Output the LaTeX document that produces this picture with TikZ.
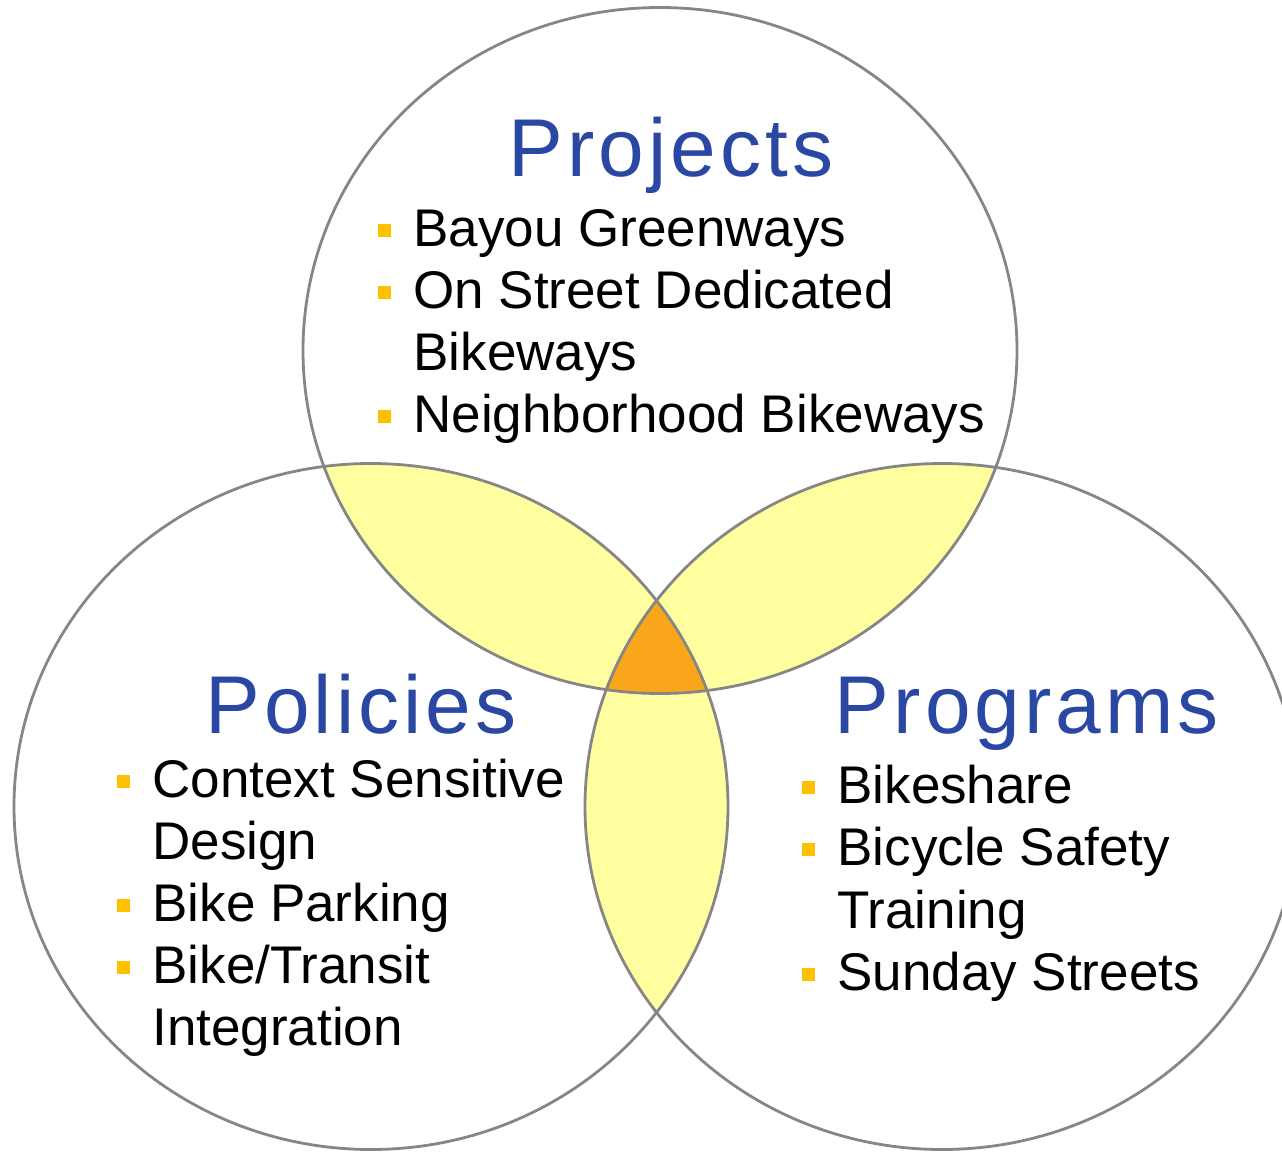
\documentclass[tikz,border=0pt]{standalone}
\usepackage{fontspec}
\setmainfont{Liberation Sans}
\newfontfamily\titlefont[LetterSpace=5]{Liberation Sans}
\usepackage{tikz}
\usetikzlibrary{positioning}
\definecolor{ringgray}{HTML}{868686}
\definecolor{lensyellow}{HTML}{FFFF9F}
\definecolor{coreorange}{HTML}{F9A61A}
\definecolor{titleblue}{HTML}{2A47A3}
\definecolor{bulletgold}{HTML}{FFC000}

\begin{document}
\begin{tikzpicture}[x=0.5pt, y=-0.5pt,
  ring/.style={draw=ringgray, line width=1.4pt},
  heading/.style={font=\titlefont\fontsize{41pt}{41pt}\selectfont, text=titleblue, inner sep=0pt, anchor=base},
  item/.style={font=\fontsize{26.5pt}{31pt}\selectfont, inner sep=0pt, anchor=base west},
  bullet/.style={fill=bulletgold, minimum size=6.5pt, inner sep=0pt}]
\useasboundingbox (0,0) rectangle (1282,1152);
\clip (0,0) rectangle (1282,1152);
\coordinate (proj) at (660,350.5);
\coordinate (poli) at (371,806.5);
\coordinate (prog) at (942,806.5);
% overlaps
\begin{scope}
\clip (proj) ellipse [x radius=357, y radius=343];
\fill[lensyellow] (poli) ellipse [x radius=357, y radius=343];
\fill[lensyellow] (prog) ellipse [x radius=357, y radius=343];
\end{scope}
\begin{scope}
\clip (poli) ellipse [x radius=357, y radius=343];
\fill[lensyellow] (prog) ellipse [x radius=357, y radius=343];
\end{scope}
\begin{scope}
\clip (proj) ellipse [x radius=357, y radius=343];
\clip (poli) ellipse [x radius=357, y radius=343];
\fill[coreorange] (prog) ellipse [x radius=357, y radius=343];
\end{scope}
\draw[ring] (proj) ellipse [x radius=357, y radius=343];
\draw[ring] (poli) ellipse [x radius=357, y radius=343];
\draw[ring] (prog) ellipse [x radius=357, y radius=343];
% headings
\node[heading] (projT) at (671,176) {Projects};
\node[heading] (poliT) at (361,733) {Policies};
\node[heading] (progT) at (1027,733) {Programs};
% projects
\node[item] (bayou) at (413,246) {Bayou Greenways};
\node[item] (street) at ([yshift=-31pt]bayou.base west) {On Street Dedicated};
\node[item] (street2) at ([yshift=-31pt]street.base west) {Bikeways};
\node[item] (neigh) at ([yshift=-31pt]street2.base west) {Neighborhood Bikeways};
\node[bullet] (bu1) at ([xshift=-14.5pt,yshift=8pt]bayou.base west) {};
\node[bullet] (bu2) at ([xshift=-14.5pt,yshift=8pt]street.base west) {};
\node[bullet] (bu3) at ([xshift=-14.5pt,yshift=8pt]neigh.base west) {};
% policies
\node[item] (context) at (152,797) {Context Sensitive};
\node[item] (context2) at ([yshift=-31pt]context.base west) {Design};
\node[item] (parking) at ([yshift=-31pt]context2.base west) {Bike Parking};
\node[item] (transit) at ([yshift=-31pt]parking.base west) {Bike/Transit};
\node[item] (transit2) at ([yshift=-31pt]transit.base west) {Integration};
\node[bullet] (bu4) at ([xshift=-14.5pt,yshift=8pt]context.base west) {};
\node[bullet] (bu5) at ([xshift=-14.5pt,yshift=8pt]parking.base west) {};
\node[bullet] (bu6) at ([xshift=-14.5pt,yshift=8pt]transit.base west) {};
% programs
\node[item] (share) at (837,803) {Bikeshare};
\node[item] (safety) at ([yshift=-31.3pt]share.base west) {Bicycle Safety};
\node[item] (safety2) at ([yshift=-31.3pt]safety.base west) {Training};
\node[item] (sunday) at ([yshift=-31.3pt]safety2.base west) {Sunday Streets};
\node[bullet] (bu7) at ([xshift=-14.5pt,yshift=8pt]share.base west) {};
\node[bullet] (bu8) at ([xshift=-14.5pt,yshift=8pt]safety.base west) {};
\node[bullet] (bu9) at ([xshift=-14.5pt,yshift=8pt]sunday.base west) {};
\end{tikzpicture}
\end{document}
